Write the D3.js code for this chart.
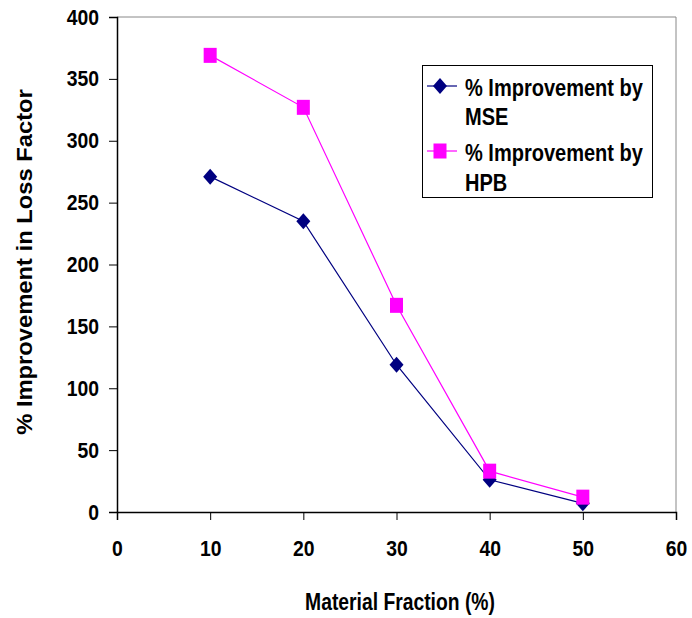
<!DOCTYPE html>
<html><head><meta charset="utf-8">
<script src="https://cdn.jsdelivr.net/npm/d3@7"></script>
<style>body{margin:0;background:#fff}svg{display:block}text{font-family:"Liberation Sans",Arial,sans-serif;font-weight:bold;fill:#000}</style>
</head><body>
<script>
const xValues = [10, 20, 30, 40, 50];
const mseValues = [271, 235, 119, 26, 7];
const hpbValues = [369, 327, 167, 33, 12];
const seriesNames = ["% Improvement by MSE", "% Improvement by HPB"];
const xTicks = [0, 10, 20, 30, 40, 50, 60];
const yTicks = [0, 50, 100, 150, 200, 250, 300, 350, 400];

const W = 692, H = 618;
const svg = d3.select("body").append("svg").attr("width", W).attr("height", H);
const x = d3.scaleLinear().domain([0, 60]).range([117, 676]);
const y = d3.scaleLinear().domain([0, 400]).range([512, 17]);

// plot frame (top/right gray)
svg.append("path").attr("d", `M${x(0)},${y(400)}H${x(60)}V${y(0)}`).attr("fill","none").attr("stroke","#888").attr("stroke-width",1);

const xa = svg.append("g").attr("transform", `translate(0,${y(0)})`)
  .call(d3.axisBottom(x).tickValues(xTicks).tickSizeOuter(0).tickSize(8).tickPadding(20));
const ya = svg.append("g").attr("transform", `translate(${x(0)},0)`)
  .call(d3.axisLeft(y).tickValues(yTicks).tickSizeOuter(0).tickSize(8).tickPadding(10));
[xa, ya].forEach(g => {
  g.select(".domain").attr("stroke", "#000").attr("stroke-width", 1.5);
  g.selectAll(".tick line").attr("stroke", "#000");
  g.selectAll(".tick text").attr("font-size", 22).attr("font-family", "Liberation Sans, Arial, sans-serif")
    .attr("font-weight","bold").attr("fill","#000").attr("transform","scale(0.88,1)");
});
ya.selectAll(".tick text").attr("x", -18 / 0.88);

const line = d3.line().x(d => x(d[0])).y(d => y(d[1]));
const mse = xValues.map((v,i) => [v, mseValues[i]]);
const hpb = xValues.map((v,i) => [v, hpbValues[i]]);

svg.append("path").datum(mse).attr("d", line).attr("fill","none").attr("stroke","#000080").attr("stroke-width",1.2);
svg.append("path").datum(hpb).attr("d", line).attr("fill","none").attr("stroke","#FF00FF").attr("stroke-width",1.2);

const diamond = (w, h) => `M0,${-h}L${w},0L0,${h}L${-w},0Z`;
svg.selectAll(".mse").data(mse).enter().append("path").attr("d", diamond(7, 8))
  .attr("transform", d => `translate(${x(d[0])},${y(d[1])})`).attr("fill","#000080");
svg.selectAll(".hpb").data(hpb).enter().append("rect")
  .attr("x", d => x(d[0]) - 6.5).attr("y", d => y(d[1]) - 7.5).attr("width", 13).attr("height", 15).attr("fill","#FF00FF");

// legend
const lg = svg.append("g");
lg.append("rect").attr("x", 422.5).attr("y", 65.5).attr("width", 230).attr("height", 132).attr("fill","#fff").attr("stroke","#000").attr("stroke-width",1);
const items = [
  {lines:["% Improvement by","MSE"], color:"#000080", shape:"d", my:86, base:[96, 125]},
  {lines:["% Improvement by","HPB"], color:"#FF00FF", shape:"s", my:151, base:[161, 191]}
];
items.forEach(it => {
  lg.append("line").attr("x1",427).attr("x2",457).attr("y1",it.my).attr("y2",it.my).attr("stroke",it.color).attr("stroke-width",1.2);
  if (it.shape === "d") lg.append("path").attr("d", diamond(7, 8)).attr("transform",`translate(440,${it.my})`).attr("fill",it.color);
  else lg.append("rect").attr("x",433.5).attr("y",it.my-7.5).attr("width",13).attr("height",15).attr("fill",it.color);
  it.lines.forEach((t,j) => lg.append("text").attr("transform",`translate(465,${it.base[j]}) scale(0.87,1)`).attr("font-size",23).text(t));
});

svg.append("text").attr("transform","translate(400,610) scale(0.84,1)").attr("text-anchor","middle").attr("font-size",23).text("Material Fraction (%)");
svg.append("text").attr("transform","translate(32,262) rotate(-90) scale(1.08,1)").attr("text-anchor","middle").attr("font-size",22).text("% Improvement in Loss Factor");
</script>
</body></html>
